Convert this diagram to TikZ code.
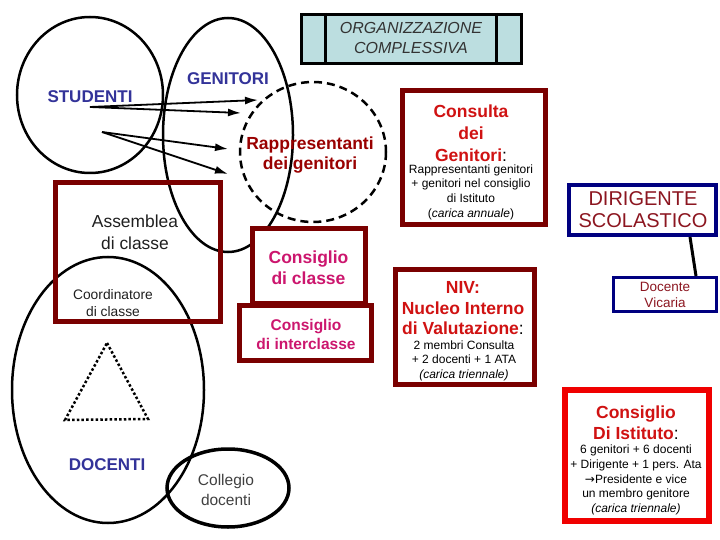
\documentclass[tikz,border=0pt]{standalone}
\usepackage{fontspec}
\setmainfont{Liberation Sans}
\newfontfamily\dejavu{DejaVu Sans}
\usetikzlibrary{arrows.meta}
\definecolor{boxred}{RGB}{122,0,0}
\definecolor{titlered}{RGB}{208,18,18}
\definecolor{rapred}{RGB}{153,0,0}
\definecolor{magred}{RGB}{204,22,110}
\definecolor{navytext}{RGB}{51,51,153}
\definecolor{navyline}{RGB}{0,0,128}
\definecolor{istred}{RGB}{240,0,0}
\definecolor{orgfill}{RGB}{188,222,224}
\definecolor{dirtext}{RGB}{140,22,32}
\newcommand\fsz[2]{\fontsize{#1}{#2}\selectfont}
\begin{document}
\begin{tikzpicture}[x=1pt,y=-1pt,
  ring/.style={draw=black,line width=2.5pt},
  redbox/.style={draw=boxred,line width=5pt,rectangle,inner sep=0pt},
  navybox/.style={draw=navyline,line width=4pt,rectangle,inner sep=0pt,fill=white},
  arr/.style={line width=1.8pt,-{Latex[length=13pt,width=8pt]}},
  lbl/.style={inner sep=0pt,align=center},
  bigtitle/.style={lbl,font=\fsz{17.5}{22}\bfseries},
  smalltxt/.style={lbl,font=\fsz{12}{14.6}}]
\useasboundingbox (0,0) rectangle (720,540);
% organizzazione box
\node[draw=black,line width=3pt,fill=orgfill,rectangle,inner sep=0pt,
  minimum width=220pt,minimum height=49pt] (org) at (411.5,39) {};
\draw[line width=3pt] ([xshift=25.5pt]org.north west) -- ([xshift=25.5pt]org.south west);
\draw[line width=3pt] ([xshift=-26.5pt]org.north east) -- ([xshift=-26.5pt]org.south east);
\node[lbl,font=\fsz{16}{20}\itshape,text=black!80] (orgt) at (411,38) {ORGANIZZAZIONE\\COMPLESSIVA};
% ellipses
\draw[ring] (90,95) ellipse [x radius=73, y radius=78];
\draw[ring] (228,135) ellipse [x radius=65, y radius=117];
\draw[ring,dashed,dash pattern=on 8pt off 5pt] (313,152) ellipse [x radius=73, y radius=70];
\draw[ring] (108,390) ellipse [x radius=96, y radius=133];
\draw[draw=black,line width=3.5pt] (228,488) ellipse [x radius=61, y radius=39];
% triangle
\draw[line width=2.5pt,dash pattern=on 2.5pt off 2.2pt] (107,343) -- (148,419) -- (65,420) -- cycle;
% arrows
\coordinate (s1) at (90,107);
\coordinate (s2) at (102,132);
\coordinate (g1) at (258,100);
\coordinate (g2) at (241,113);
\coordinate (g3) at (228,149);
\coordinate (g4) at (228,174);
\draw[arr] (s1) -- (g1);
\draw[arr] (s1) -- (g2);
\draw[arr] (s2) -- (g3);
\draw[arr] (s2) -- (g4);
% boxes
\node[redbox,minimum width=165pt,minimum height=139pt] (assem) at (138,252) {};
\node[redbox,fill=white,minimum width=113pt,minimum height=74.5pt] (ccl) at (309,265.75) {};
\node[redbox,fill=white,minimum width=132pt,minimum height=55pt] (cint) at (305.5,333) {};
\node[redbox,fill=white,minimum width=143pt,minimum height=134pt] (consulta) at (474,157.5) {};
\node[redbox,fill=white,minimum width=139pt,minimum height=115pt] (niv) at (465,327) {};
\node[draw=istred,line width=6pt,rectangle,inner sep=0pt,fill=white,
  minimum width=144pt,minimum height=131pt] (ist) at (637,455.5) {};
\node[navybox,minimum width=147pt,minimum height=50pt] (dir) at (642.5,210) {};
\node[navybox,line width=3pt,minimum width=103pt,minimum height=34pt] (vic) at (665,294.5) {};
\draw[line width=3pt] ([xshift=47.5pt]dir.south) -- ([xshift=31pt]vic.north);
% labels
\node[lbl,font=\fsz{17}{20}\bfseries,text=navytext] (stud) at (90,97) {STUDENTI};
\node[lbl,font=\fsz{17}{20}\bfseries,text=navytext] (gen) at (228,79) {GENITORI};
\node[lbl,font=\fsz{17}{20}\bfseries,text=navytext] (doc) at (107,465) {DOCENTI};
\node[bigtitle,font=\fsz{17.5}{20}\bfseries,text=rapred] (rapt) at (310,155) {Rappresentanti\\dei genitori};
\node[lbl,font=\fsz{17.4}{22},text=black!88] (assemt) at (135,232) {Assemblea\\di classe};
\node[lbl,font=\fsz{13.8}{17},text=black!88] (coordt) at (113,303) {Coordinatore\\di classe};
\node[bigtitle,font=\fsz{17.5}{21}\bfseries,text=magred] (cclt) at (308.5,268) {Consiglio\\di classe};
\node[lbl,font=\fsz{15.5}{19}\bfseries,text=magred] (cintt) at (306,334.5) {Consiglio\\di interclasse};
\node[bigtitle,text=titlered] (consultat) at (471,133) {Consulta\\dei\\Genitori{\mdseries\color{black}:}};
\node[smalltxt] (consultas) at (471,192) {Rappresentanti genitori\\+ genitori nel consiglio\\di Istituto\\(\textit{carica annuale})};
\node[bigtitle,font=\fsz{17.5}{20.5}\bfseries,text=titlered] (nivt) at (463,308.5) {NIV:\\Nucleo Interno\\di Valutazione{\mdseries\color{black}:}};
\node[smalltxt] (nivs) at (464,360.5) {2 membri Consulta\\+ 2 docenti + 1 ATA\\\textit{(carica triennale)}};
\node[bigtitle,font=\fsz{17.5}{21}\bfseries,text=titlered] (istt) at (636,422.5) {Consiglio\\Di Istituto{\mdseries\color{black}:}};
\node[smalltxt] (ists) at (636,480) {6 genitori + 6 docenti\\+ Dirigente + 1 pers. Ata\\{\dejavu →}Presidente e vice\\un membro genitore\\\textit{(carica triennale)}};
\node[lbl,font=\fsz{20}{22},text=dirtext] (dirt) at (643,210) {DIRIGENTE\\SCOLASTICO};
\node[lbl,font=\fsz{13.5}{16.5},text=dirtext] (vict) at (665,295) {Docente\\Vicaria};
\node[lbl,font=\fsz{15.5}{20},text=black!75] (colt) at (226,490) {Collegio\\docenti};
\end{tikzpicture}
\end{document}
